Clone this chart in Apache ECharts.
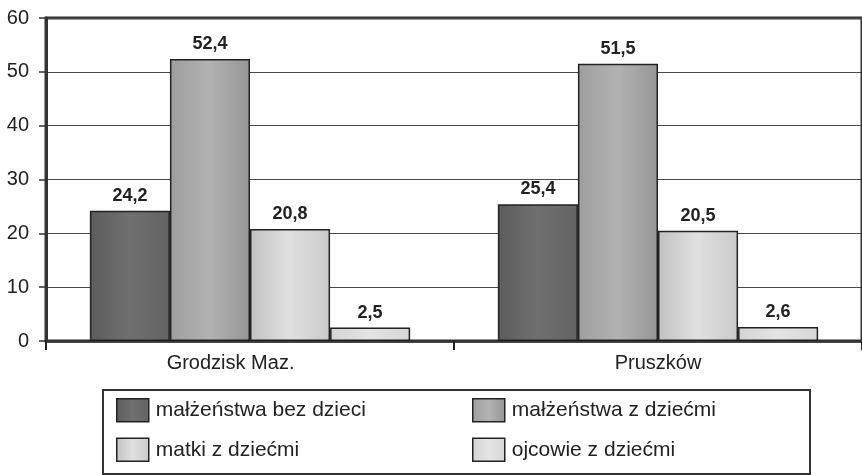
<!DOCTYPE html>
<html>
<head>
<meta charset="utf-8">
<script src="https://cdn.jsdelivr.net/npm/echarts@6/dist/echarts.min.js"></script>
<style>
  html, body { margin: 0; padding: 0; background: #fff; }
  #chart { width: 862px; height: 475px; }
</style>
</head>
<body>
<div id="chart"></div>
<script>
// dane
var categories = ["Grodzisk Maz.", "Pruszków"];
var seriesNames = ["małżeństwa bez dzieci", "małżeństwa z dziećmi", "matki z dziećmi", "ojcowie z dziećmi"];
var bezDzieci = [24.2, 25.4];
var zDziecmi = [52.4, 51.5];
var matki = [20.8, 20.5];
var ojcowie = [2.5, 2.6];
var yTicks = [0, 10, 20, 30, 40, 50, 60];

var fontFamily = "'Liberation Sans', Arial, sans-serif";

function shade(left, mid, right) {
  return new echarts.graphic.LinearGradient(0, 0, 1, 0, [
    { offset: 0, color: left },
    { offset: 0.5, color: mid },
    { offset: 1, color: right }
  ]);
}

var fills = [
  shade("#5c5c5c", "#707070", "#636363"),
  shade("#9e9e9e", "#b2b2b2", "#959595"),
  shade("#c2c2c2", "#e0e0e0", "#c9c9c9"),
  shade("#d4d4d4", "#e4e4e4", "#d6d6d6")
];
var legendFills = ["#6a6a6a", "#a6a6a6", "#d2d2d2", "#dcdcdc"];

function mkSeries(i, values) {
  return {
    name: seriesNames[i],
    type: "bar",
    data: values,
    barGap: "0%",
    barCategoryGap: "21.5%",
    itemStyle: { color: fills[i], borderColor: "#222", borderWidth: 1.5 },
    label: {
      show: true,
      position: "top",
      distance: 6,
      color: "#222",
      fontFamily: fontFamily,
      fontWeight: "bold",
      fontSize: 18,
      formatter: function (p) { return String(p.value).replace(".", ","); }
    }
  };
}

var legendBase = {
  orient: "vertical",
  top: 393,
  itemWidth: 32, itemHeight: 23, itemGap: 15,
  icon: "rect",
  itemStyle: { borderColor: "#222", borderWidth: 1.5 },
  textStyle: { fontFamily: fontFamily, fontSize: 21, color: "#222", padding: [0, 0, 0, 2] }
};

var chart = echarts.init(document.getElementById("chart"));
chart.setOption({
  backgroundColor: "#fff",
  animation: false,
  color: legendFills,
  grid: {
    left: 46, right: -3, top: 18, bottom: 134,
    show: true, borderColor: "#333", borderWidth: 3
  },
  legend: [
    Object.assign({}, legendBase, { data: [seriesNames[0], seriesNames[2]], left: 111 }),
    Object.assign({}, legendBase, { data: [seriesNames[1], seriesNames[3]], left: 467 })
  ],
  graphic: [
    {
      type: "rect",
      shape: { x: 103, y: 390, width: 707, height: 84 },
      style: { fill: "none", stroke: "#333", lineWidth: 2 },
      z: -1
    }
  ],
  xAxis: {
    type: "category",
    data: categories,
    axisLine: { lineStyle: { color: "#333", width: 2.5 } },
    axisTick: { show: true, length: 9, lineStyle: { color: "#222", width: 2 } },
    axisLabel: {
      margin: 12,
      color: "#222",
      fontFamily: fontFamily,
      fontSize: 20,
      // pierwsza etykieta w oryginale jest lekko przesunięta w lewo
      formatter: function (v) { return v === categories[0] ? v + "       " : v; }
    }
  },
  yAxis: {
    type: "value",
    min: yTicks[0],
    max: yTicks[yTicks.length - 1],
    interval: yTicks[1] - yTicks[0],
    axisLine: { show: true, lineStyle: { color: "#333", width: 3 } },
    axisTick: { show: true, length: 7, lineStyle: { color: "#333", width: 1.5 } },
    axisLabel: { margin: 17, color: "#222", fontFamily: fontFamily, fontSize: 20 },
    splitLine: { show: true, lineStyle: { color: "#4a4a4a", width: 1 } }
  },
  series: [
    mkSeries(0, bezDzieci),
    mkSeries(1, zDziecmi),
    mkSeries(2, matki),
    mkSeries(3, ojcowie)
  ]
});
</script>
</body>
</html>
